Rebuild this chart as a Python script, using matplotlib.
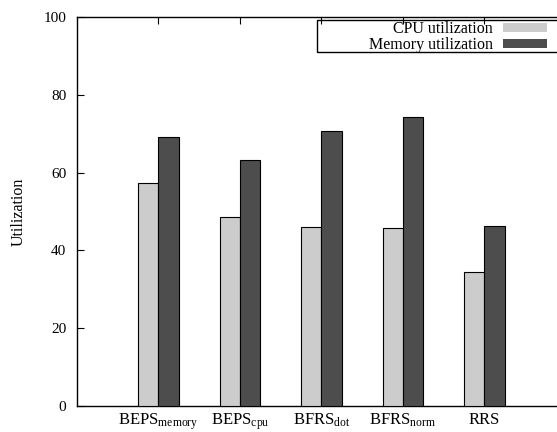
import numpy as np
import matplotlib
matplotlib.use('Agg')
import matplotlib.pyplot as plt
from matplotlib.patches import Rectangle

plt.rcParams['font.family'] = ['Liberation Serif', 'DejaVu Serif']
plt.rcParams['mathtext.fontset'] = 'custom'
plt.rcParams['mathtext.rm'] = 'Liberation Serif'
plt.rcParams['mathtext.it'] = 'Liberation Serif:italic'

# 各调度策略的资源利用率
labels = [r'BEPS$_{\mathrm{memory}}$', r'BEPS$_{\mathrm{cpu}}$', r'BFRS$_{\mathrm{dot}}$',
          r'BFRS$_{\mathrm{norm}}$', 'RRS']
cpu_util = [57.4, 48.7, 46.0, 45.8, 34.4]
mem_util = [69.1, 63.2, 70.8, 74.2, 46.2]

x = np.arange(len(labels))
w = 0.25

fig = plt.figure(figsize=(5.57, 4.32), dpi=100)
ax = fig.add_axes([0.138, 0.060, 0.878, 0.901])

ax.bar(x - w/2, cpu_util, w, color='#cccccc', edgecolor='black', linewidth=0.8,
       label='CPU utilization', zorder=3)
ax.bar(x + w/2, mem_util, w, color='#4d4d4d', edgecolor='black', linewidth=0.8,
       label='Memory utilization', zorder=3)

ax.set_xlim(-1, 5)
ax.set_ylim(0, 100)
ax.set_yticks([0, 20, 40, 60, 80, 100])
ax.set_xticks(x)
ax.set_xticklabels(labels, fontsize=12)
ax.tick_params(axis='y', labelsize=11, direction='in', length=5, right=True, pad=7.5)
ax.tick_params(axis='x', direction='in', length=5, top=True, pad=4)
ax.set_ylabel('Utilization', fontsize=11.5, labelpad=12)
for s in ax.spines.values():
    s.set_linewidth(1.0)

# 图例：文字在左、色块在右，外框单独画
leg = ax.legend(loc='upper right', bbox_to_anchor=(547/557, 1 - 21/432),
                bbox_transform=fig.transFigure, borderaxespad=0, borderpad=0,
                markerfirst=False, fontsize=11.5, handlelength=2.75,
                handleheight=0.5, handletextpad=0.65, labelspacing=0.0,
                frameon=False)
for p in leg.get_patches():
    p.set_linewidth(0)
fig.add_artist(Rectangle((317/557, 1 - 52/432), (560 - 317)/557, 32/432,
                         transform=fig.transFigure, fill=False,
                         edgecolor='black', linewidth=1.0, clip_on=False))

plt.savefig('out.png', dpi=100)
